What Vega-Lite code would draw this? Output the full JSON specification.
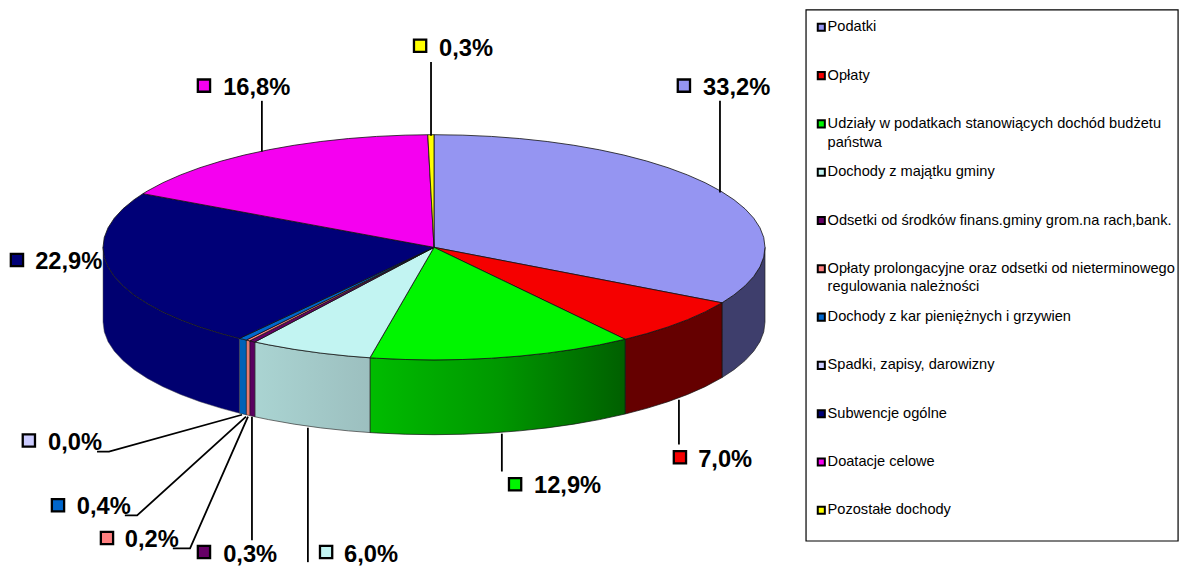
{"$schema":"https://vega.github.io/schema/vega-lite/v6.json","width":1179,"height":567,"padding":0,"autosize":{"type":"fit","contains":"padding"},"background":"white","config":{"view":{"stroke":null},"font":"Liberation Sans"},
"datasets":{
"top":[
{"slice":"Podatki","n":1,"x":0,"y":0},{"slice":"Podatki","n":2,"x":0,"y":1},{"slice":"Podatki","n":3,"x":0.0872,"y":0.9962},{"slice":"Podatki","n":4,"x":0.1736,"y":0.9848},{"slice":"Podatki","n":5,"x":0.2588,"y":0.9659},{"slice":"Podatki","n":6,"x":0.342,"y":0.9397},{"slice":"Podatki","n":7,"x":0.4226,"y":0.9063},{"slice":"Podatki","n":8,"x":0.5,"y":0.866},{"slice":"Podatki","n":9,"x":0.5736,"y":0.8192},{"slice":"Podatki","n":10,"x":0.6428,"y":0.766},{"slice":"Podatki","n":11,"x":0.7071,"y":0.7071},{"slice":"Podatki","n":12,"x":0.766,"y":0.6428},{"slice":"Podatki","n":13,"x":0.8192,"y":0.5736},{"slice":"Podatki","n":14,"x":0.866,"y":0.5},{"slice":"Podatki","n":15,"x":0.9063,"y":0.4226},{"slice":"Podatki","n":16,"x":0.9397,"y":0.342},{"slice":"Podatki","n":17,"x":0.9659,"y":0.2588},{"slice":"Podatki","n":18,"x":0.9848,"y":0.1736},{"slice":"Podatki","n":19,"x":0.9962,"y":0.0872},{"slice":"Podatki","n":20,"x":1,"y":0},{"slice":"Podatki","n":21,"x":0.9962,"y":-0.0872},{"slice":"Podatki","n":22,"x":0.9848,"y":-0.1736},{"slice":"Podatki","n":23,"x":0.9659,"y":-0.2588},{"slice":"Podatki","n":24,"x":0.9397,"y":-0.342},{"slice":"Podatki","n":25,"x":0.9063,"y":-0.4226},{"slice":"Podatki","n":26,"x":0.8702,"y":-0.4927},{"slice":"Podatki","n":27,"x":0,"y":0},
{"slice":"Opłaty","n":1,"x":0,"y":0},{"slice":"Opłaty","n":2,"x":0.8702,"y":-0.4927},{"slice":"Opłaty","n":3,"x":0.8192,"y":-0.5736},{"slice":"Opłaty","n":4,"x":0.766,"y":-0.6428},{"slice":"Opłaty","n":5,"x":0.7071,"y":-0.7071},{"slice":"Opłaty","n":6,"x":0.6428,"y":-0.766},{"slice":"Opłaty","n":7,"x":0.5775,"y":-0.8164},{"slice":"Opłaty","n":8,"x":0,"y":0},
{"slice":"Udziały w podatkach stanowiących dochód budżetu państwa","n":1,"x":0,"y":0},{"slice":"Udziały w podatkach stanowiących dochód budżetu państwa","n":2,"x":0.5775,"y":-0.8164},{"slice":"Udziały w podatkach stanowiących dochód budżetu państwa","n":3,"x":0.5,"y":-0.866},{"slice":"Udziały w podatkach stanowiących dochód budżetu państwa","n":4,"x":0.4226,"y":-0.9063},{"slice":"Udziały w podatkach stanowiących dochód budżetu państwa","n":5,"x":0.342,"y":-0.9397},{"slice":"Udziały w podatkach stanowiących dochód budżetu państwa","n":6,"x":0.2588,"y":-0.9659},{"slice":"Udziały w podatkach stanowiących dochód budżetu państwa","n":7,"x":0.1736,"y":-0.9848},{"slice":"Udziały w podatkach stanowiących dochód budżetu państwa","n":8,"x":0.0872,"y":-0.9962},{"slice":"Udziały w podatkach stanowiących dochód budżetu państwa","n":9,"x":0,"y":-1},{"slice":"Udziały w podatkach stanowiących dochód budżetu państwa","n":10,"x":-0.0872,"y":-0.9962},{"slice":"Udziały w podatkach stanowiących dochód budżetu państwa","n":11,"x":-0.1736,"y":-0.9848},{"slice":"Udziały w podatkach stanowiących dochód budżetu państwa","n":12,"x":-0.1935,"y":-0.9811},{"slice":"Udziały w podatkach stanowiących dochód budżetu państwa","n":13,"x":0,"y":0},
{"slice":"Dochody z majątku gminy","n":1,"x":0,"y":0},{"slice":"Dochody z majątku gminy","n":2,"x":-0.1935,"y":-0.9811},{"slice":"Dochody z majątku gminy","n":3,"x":-0.2588,"y":-0.9659},{"slice":"Dochody z majątku gminy","n":4,"x":-0.342,"y":-0.9397},{"slice":"Dochody z majątku gminy","n":5,"x":-0.4226,"y":-0.9063},{"slice":"Dochody z majątku gminy","n":6,"x":-0.5,"y":-0.866},{"slice":"Dochody z majątku gminy","n":7,"x":-0.5412,"y":-0.8409},{"slice":"Dochody z majątku gminy","n":8,"x":0,"y":0},
{"slice":"Odsetki od środków finans.gminy grom.na rach,bank.","n":1,"x":0,"y":0},{"slice":"Odsetki od środków finans.gminy grom.na rach,bank.","n":2,"x":-0.5412,"y":-0.8409},{"slice":"Odsetki od środków finans.gminy grom.na rach,bank.","n":3,"x":-0.5568,"y":-0.8306},{"slice":"Odsetki od środków finans.gminy grom.na rach,bank.","n":4,"x":0,"y":0},
{"slice":"Opłaty prolongacyjne oraz odsetki od nieterminowego regulowania należności","n":1,"x":0,"y":0},{"slice":"Opłaty prolongacyjne oraz odsetki od nieterminowego regulowania należności","n":2,"x":-0.5568,"y":-0.8306},{"slice":"Opłaty prolongacyjne oraz odsetki od nieterminowego regulowania należności","n":3,"x":-0.5672,"y":-0.8235},{"slice":"Opłaty prolongacyjne oraz odsetki od nieterminowego regulowania należności","n":4,"x":0,"y":0},
{"slice":"Dochody z kar pieniężnych i grzywien","n":1,"x":0,"y":0},{"slice":"Dochody z kar pieniężnych i grzywien","n":2,"x":-0.5672,"y":-0.8235},{"slice":"Dochody z kar pieniężnych i grzywien","n":3,"x":-0.5878,"y":-0.809},{"slice":"Dochody z kar pieniężnych i grzywien","n":4,"x":0,"y":0},
{"slice":"Subwencje ogólne","n":1,"x":0,"y":0},{"slice":"Subwencje ogólne","n":2,"x":-0.5878,"y":-0.809},{"slice":"Subwencje ogólne","n":3,"x":-0.6428,"y":-0.766},{"slice":"Subwencje ogólne","n":4,"x":-0.7071,"y":-0.7071},{"slice":"Subwencje ogólne","n":5,"x":-0.766,"y":-0.6428},{"slice":"Subwencje ogólne","n":6,"x":-0.8192,"y":-0.5736},{"slice":"Subwencje ogólne","n":7,"x":-0.866,"y":-0.5},{"slice":"Subwencje ogólne","n":8,"x":-0.9063,"y":-0.4226},{"slice":"Subwencje ogólne","n":9,"x":-0.9397,"y":-0.342},{"slice":"Subwencje ogólne","n":10,"x":-0.9659,"y":-0.2588},{"slice":"Subwencje ogólne","n":11,"x":-0.9848,"y":-0.1736},{"slice":"Subwencje ogólne","n":12,"x":-0.9962,"y":-0.0872},{"slice":"Subwencje ogólne","n":13,"x":-1,"y":0},{"slice":"Subwencje ogólne","n":14,"x":-0.9962,"y":0.0872},{"slice":"Subwencje ogólne","n":15,"x":-0.9848,"y":0.1736},{"slice":"Subwencje ogólne","n":16,"x":-0.9659,"y":0.2588},{"slice":"Subwencje ogólne","n":17,"x":-0.9397,"y":0.342},{"slice":"Subwencje ogólne","n":18,"x":-0.9063,"y":0.4226},{"slice":"Subwencje ogólne","n":19,"x":-0.8793,"y":0.4762},{"slice":"Subwencje ogólne","n":20,"x":0,"y":0},
{"slice":"Doatacje celowe","n":1,"x":0,"y":0},{"slice":"Doatacje celowe","n":2,"x":-0.8793,"y":0.4762},{"slice":"Doatacje celowe","n":3,"x":-0.866,"y":0.5},{"slice":"Doatacje celowe","n":4,"x":-0.8192,"y":0.5736},{"slice":"Doatacje celowe","n":5,"x":-0.766,"y":0.6428},{"slice":"Doatacje celowe","n":6,"x":-0.7071,"y":0.7071},{"slice":"Doatacje celowe","n":7,"x":-0.6428,"y":0.766},{"slice":"Doatacje celowe","n":8,"x":-0.5736,"y":0.8192},{"slice":"Doatacje celowe","n":9,"x":-0.5,"y":0.866},{"slice":"Doatacje celowe","n":10,"x":-0.4226,"y":0.9063},{"slice":"Doatacje celowe","n":11,"x":-0.342,"y":0.9397},{"slice":"Doatacje celowe","n":12,"x":-0.2588,"y":0.9659},{"slice":"Doatacje celowe","n":13,"x":-0.1736,"y":0.9848},{"slice":"Doatacje celowe","n":14,"x":-0.0872,"y":0.9962},{"slice":"Doatacje celowe","n":15,"x":-0.0188,"y":0.9998},{"slice":"Doatacje celowe","n":16,"x":0,"y":0},
{"slice":"Pozostałe dochody","n":1,"x":0,"y":0},{"slice":"Pozostałe dochody","n":2,"x":-0.0188,"y":0.9998},{"slice":"Pozostałe dochody","n":3,"x":0,"y":1},{"slice":"Pozostałe dochody","n":4,"x":0,"y":0}
],
"side":[
{"s":"a","x":1,"y":0,"y2":-0.664},{"s":"a","x":0.9962,"y":-0.0872,"y2":-0.7512},{"s":"a","x":0.9848,"y":-0.1736,"y2":-0.8376},{"s":"a","x":0.9659,"y":-0.2588,"y2":-0.9228},{"s":"a","x":0.9397,"y":-0.342,"y2":-1.006},{"s":"a","x":0.9063,"y":-0.4226,"y2":-1.0866},{"s":"a","x":0.8702,"y":-0.4927,"y2":-1.1567},
{"s":"b","x":0.8702,"y":-0.4927,"y2":-1.1567},{"s":"b","x":0.8192,"y":-0.5736,"y2":-1.2376},{"s":"b","x":0.766,"y":-0.6428,"y2":-1.3068},{"s":"b","x":0.7071,"y":-0.7071,"y2":-1.3711},{"s":"b","x":0.6428,"y":-0.766,"y2":-1.43},{"s":"b","x":0.5775,"y":-0.8164,"y2":-1.4804},
{"s":"c","x":0.5775,"y":-0.8164,"y2":-1.4804},{"s":"c","x":0.5,"y":-0.866,"y2":-1.53},{"s":"c","x":0.4226,"y":-0.9063,"y2":-1.5703},{"s":"c","x":0.342,"y":-0.9397,"y2":-1.6037},{"s":"c","x":0.2588,"y":-0.9659,"y2":-1.6299},{"s":"c","x":0.1736,"y":-0.9848,"y2":-1.6488},{"s":"c","x":0.0872,"y":-0.9962,"y2":-1.6602},{"s":"c","x":0,"y":-1,"y2":-1.664},{"s":"c","x":-0.0872,"y":-0.9962,"y2":-1.6602},{"s":"c","x":-0.1736,"y":-0.9848,"y2":-1.6488},{"s":"c","x":-0.1935,"y":-0.9811,"y2":-1.6451},
{"s":"d","x":-0.1935,"y":-0.9811,"y2":-1.6451},{"s":"d","x":-0.2588,"y":-0.9659,"y2":-1.6299},{"s":"d","x":-0.342,"y":-0.9397,"y2":-1.6037},{"s":"d","x":-0.4226,"y":-0.9063,"y2":-1.5703},{"s":"d","x":-0.5,"y":-0.866,"y2":-1.53},{"s":"d","x":-0.5412,"y":-0.8409,"y2":-1.5049},
{"s":"e","x":-0.5412,"y":-0.8409,"y2":-1.5049},{"s":"e","x":-0.5568,"y":-0.8306,"y2":-1.4946},
{"s":"f","x":-0.5568,"y":-0.8306,"y2":-1.4946},{"s":"f","x":-0.5672,"y":-0.8235,"y2":-1.4875},
{"s":"g","x":-0.5672,"y":-0.8235,"y2":-1.4875},{"s":"g","x":-0.5878,"y":-0.809,"y2":-1.473},
{"s":"h","x":-0.5878,"y":-0.809,"y2":-1.473},{"s":"h","x":-0.6428,"y":-0.766,"y2":-1.43},{"s":"h","x":-0.7071,"y":-0.7071,"y2":-1.3711},{"s":"h","x":-0.766,"y":-0.6428,"y2":-1.3068},{"s":"h","x":-0.8192,"y":-0.5736,"y2":-1.2376},{"s":"h","x":-0.866,"y":-0.5,"y2":-1.164},{"s":"h","x":-0.9063,"y":-0.4226,"y2":-1.0866},{"s":"h","x":-0.9397,"y":-0.342,"y2":-1.006},{"s":"h","x":-0.9659,"y":-0.2588,"y2":-0.9228},{"s":"h","x":-0.9848,"y":-0.1736,"y2":-0.8376},{"s":"h","x":-0.9962,"y":-0.0872,"y2":-0.7512},{"s":"h","x":-1,"y":0,"y2":-0.664}
],
"leaders":[
{"k":"33,2","n":1,"x":0.864,"y":1.301},{"k":"33,2","n":2,"x":0.864,"y":0.487},
{"k":"0,3t","n":1,"x":-0.009,"y":1.646},{"k":"0,3t","n":2,"x":-0.009,"y":0.991},
{"k":"16,8","n":1,"x":-0.52,"y":1.301},{"k":"16,8","n":2,"x":-0.52,"y":0.85},
{"k":"7,0","n":1,"x":0.74,"y":-1.354},{"k":"7,0","n":2,"x":0.74,"y":-1.752},
{"k":"12,9","n":1,"x":0.205,"y":-1.655},{"k":"12,9","n":2,"x":0.205,"y":-1.991},
{"k":"6,0","n":1,"x":-0.381,"y":-1.602},{"k":"6,0","n":2,"x":-0.381,"y":-2.796},
{"k":"0,3b","n":1,"x":-0.55,"y":-1.504},{"k":"0,3b","n":2,"x":-0.55,"y":-2.602},
{"k":"0,2","n":1,"x":-0.562,"y":-1.504},{"k":"0,2","n":2,"x":-0.737,"y":-2.673},{"k":"0,2","n":3,"x":-0.789,"y":-2.673},
{"k":"0,4","n":1,"x":-0.568,"y":-1.504},{"k":"0,4","n":2,"x":-0.897,"y":-2.381},{"k":"0,4","n":3,"x":-0.934,"y":-2.381},
{"k":"0,0","n":1,"x":-0.58,"y":-1.487},{"k":"0,0","n":2,"x":-0.982,"y":-1.814},{"k":"0,0","n":3,"x":-1.018,"y":-1.814}
],
"labels":[
{"slice":"Podatki","text":"33,2%","sx":0.755,"sy":1.436,"tx":0.813,"ty":1.416},
{"slice":"Opłaty","text":"7,0%","sx":0.743,"sy":-1.865,"tx":0.798,"ty":-1.885},
{"slice":"Udziały w podatkach stanowiących dochód budżetu państwa","text":"12,9%","sx":0.245,"sy":-2.104,"tx":0.302,"ty":-2.124},
{"slice":"Dochody z majątku gminy","text":"6,0%","sx":-0.326,"sy":-2.706,"tx":-0.272,"ty":-2.735},
{"slice":"Odsetki od środków finans.gminy grom.na rach,bank.","text":"0,3%","sx":-0.695,"sy":-2.706,"tx":-0.637,"ty":-2.735},
{"slice":"Opłaty prolongacyjne oraz odsetki od nieterminowego regulowania należności","text":"0,2%","sx":-0.988,"sy":-2.582,"tx":-0.934,"ty":-2.602},
{"slice":"Dochody z kar pieniężnych i grzywien","text":"0,4%","sx":-1.136,"sy":-2.29,"tx":-1.079,"ty":-2.31},
{"slice":"Spadki, zapisy, darowizny","text":"0,0%","sx":-1.224,"sy":-1.715,"tx":-1.166,"ty":-1.735},
{"slice":"Subwencje ogólne","text":"22,9%","sx":-1.26,"sy":-0.113,"tx":-1.205,"ty":-0.133},
{"slice":"Doatacje celowe","text":"16,8%","sx":-0.695,"sy":1.436,"tx":-0.637,"ty":1.416},
{"slice":"Pozostałe dochody","text":"0,3%","sx":-0.042,"sy":1.79,"tx":0.015,"ty":1.761}
],
"box":[{"x":1.124,"x2":2.248,"y":2.108,"y2":-2.608}],
"wrap":[{"text":"państwa","x":1.189,"y":0.929},{"text":"regulowania należności","x":1.189,"y":-0.354}]
},
"encoding":{
"x":{"field":"x","type":"quantitative","axis":null,"scale":{"domain":[-1.3112,2.2508],"nice":false,"zero":false}},
"y":{"field":"y","type":"quantitative","axis":null,"scale":{"domain":[-2.8213,2.1964],"nice":false,"zero":false}}
},
"layer":[
{"data":{"name":"box"},"mark":{"type":"rect","fill":"white","stroke":"black","strokeWidth":1.2},"encoding":{"x2":{"field":"x2"},"y2":{"field":"y2"}}},
{"data":{"name":"wrap"},"mark":{"type":"text","align":"left","baseline":"middle","fontSize":14.6,"font":"Liberation Sans","color":"black"},"encoding":{"text":{"field":"text"}}},
{"data":{"name":"side"},"transform":[{"filter":"datum.s=='a'"}],"mark":{"type":"area","fill":"#3E3E6C","stroke":"#222","strokeWidth":0.7,"orient":"vertical"},"encoding":{"y2":{"field":"y2"}}},
{"data":{"name":"side"},"transform":[{"filter":"datum.s=='b'"}],"mark":{"type":"area","fill":"#650000","stroke":"#111","strokeWidth":0.7,"orient":"vertical"},"encoding":{"y2":{"field":"y2"}}},
{"data":{"name":"side"},"transform":[{"filter":"datum.s=='c'"}],"mark":{"type":"area","stroke":"#111","strokeWidth":0.7,"orient":"vertical","fill":{"gradient":"linear","x1":0,"y1":0,"x2":1,"y2":0,"stops":[{"offset":0,"color":"#00BC00"},{"offset":0.5,"color":"#009800"},{"offset":1,"color":"#005F00"}]}},"encoding":{"y2":{"field":"y2"}}},
{"data":{"name":"side"},"transform":[{"filter":"datum.s=='d'"}],"mark":{"type":"area","stroke":"#333","strokeWidth":0.7,"orient":"vertical","fill":{"gradient":"linear","x1":0,"y1":0,"x2":1,"y2":0,"stops":[{"offset":0,"color":"#AAD4D2"},{"offset":1,"color":"#9CBFBF"}]}},"encoding":{"y2":{"field":"y2"}}},
{"data":{"name":"side"},"transform":[{"filter":"datum.s=='e'"}],"mark":{"type":"area","fill":"#5A0060","stroke":"#111","strokeWidth":0.5,"orient":"vertical"},"encoding":{"y2":{"field":"y2"}}},
{"data":{"name":"side"},"transform":[{"filter":"datum.s=='f'"}],"mark":{"type":"area","fill":"#E87A70","stroke":"#111","strokeWidth":0.5,"orient":"vertical"},"encoding":{"y2":{"field":"y2"}}},
{"data":{"name":"side"},"transform":[{"filter":"datum.s=='g'"}],"mark":{"type":"area","fill":"#0062B8","stroke":"#111","strokeWidth":0.5,"orient":"vertical"},"encoding":{"y2":{"field":"y2"}}},
{"data":{"name":"side"},"transform":[{"filter":"datum.s=='h'"}],"mark":{"type":"area","fill":"#000070","stroke":"#555","strokeWidth":0.5,"orient":"vertical"},"encoding":{"y2":{"field":"y2"}}},
{"data":{"name":"top"},"mark":{"type":"line","stroke":"#111","strokeWidth":0.8,"strokeJoin":"round"},"encoding":{"detail":{"field":"slice"},"order":{"field":"n","type":"quantitative"},"fill":{"field":"slice","type":"nominal","scale":{"domain":["Podatki","Opłaty","Udziały w podatkach stanowiących dochód budżetu państwa","Dochody z majątku gminy","Odsetki od środków finans.gminy grom.na rach,bank.","Opłaty prolongacyjne oraz odsetki od nieterminowego regulowania należności","Dochody z kar pieniężnych i grzywien","Spadki, zapisy, darowizny","Subwencje ogólne","Doatacje celowe","Pozostałe dochody"],"range":["#9595F2","#F50000","#00F500","#C2F4F2","#660066","#FF8080","#0066CC","#CCCCFF","#000077","#F500F0","#FFFF00"]},"legend":{"title":null,"orient":"none","legendX":814,"legendY":20,"padding":0,"symbolType":"square","symbolSize":50,"symbolStrokeWidth":2,"symbolStrokeColor":"black","symbolOpacity":1,"rowPadding":32.3,"labelOffset":-1,"labelLimit":400,"labelFont":"Liberation Sans","labelFontSize":14.6,"labelColor":"black","labelExpr":"replace(replace(datum.label,' państwa',''),' regulowania należności','')"}}}},
{"data":{"name":"leaders"},"mark":{"type":"line","color":"black","strokeWidth":1.8},"encoding":{"detail":{"field":"k"},"order":{"field":"n","type":"quantitative"}}},
{"data":{"name":"labels"},"mark":{"type":"point","shape":"square","filled":true,"size":150,"stroke":"black","strokeWidth":2.3,"opacity":1},"encoding":{"x":{"field":"sx","type":"quantitative"},"y":{"field":"sy","type":"quantitative"},"fill":{"field":"slice","type":"nominal"}}},
{"data":{"name":"labels"},"mark":{"type":"text","align":"left","baseline":"middle","fontSize":23.7,"fontWeight":"bold","font":"Liberation Sans","color":"black"},"encoding":{"x":{"field":"tx","type":"quantitative"},"y":{"field":"ty","type":"quantitative"},"text":{"field":"text"}}}
]
}
